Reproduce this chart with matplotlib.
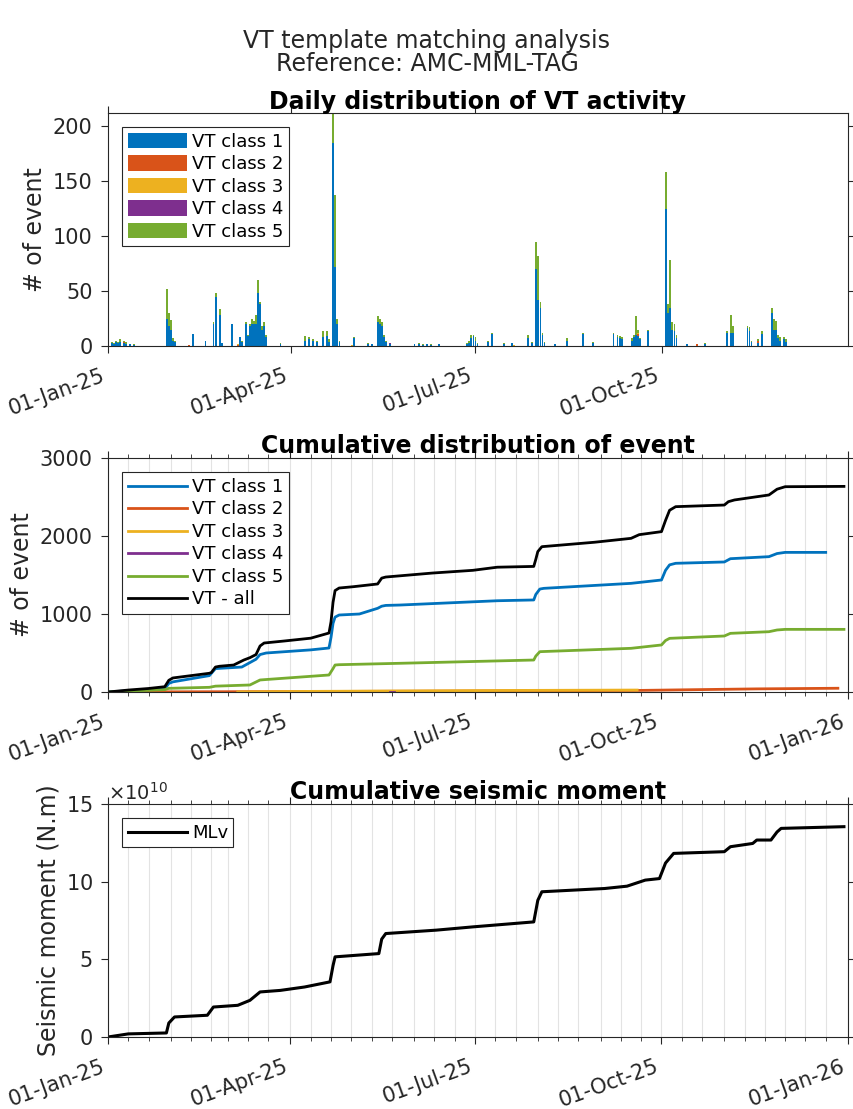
import numpy as np
import matplotlib
matplotlib.use("Agg")
import matplotlib.pyplot as plt
import matplotlib.dates as mdates
from matplotlib.ticker import ScalarFormatter

t0 = np.datetime64("2025-01-01")

# daily VT counts, day index counted from 01-Jan-25
daily_days = [0, 2, 3, 4, 5, 6, 8, 9, 11, 13,
              29, 30, 31, 32, 33, 42, 48, 52, 53, 55, 56, 61, 65, 66,
              68, 69, 70, 71, 72, 73, 74, 75, 76, 77, 78, 85,
              97, 99, 101, 103, 106, 108, 109, 111, 112, 113, 114, 121,
              128, 130, 133, 134, 135, 136, 137, 139,
              151, 153, 155, 157, 159, 163, 177, 178, 179, 180, 181, 182,
              187, 189, 195, 199, 207, 209, 211, 212, 213, 214, 215,
              220, 226, 234, 239, 249, 251, 252, 253, 258, 259, 260, 261, 262,
              266, 275, 276, 277, 278, 279, 280, 285, 294,
              305, 307, 308, 315, 316, 317, 320, 322,
              327, 328, 329, 330, 331, 333, 334]
daily_c1 = [2, 3, 2, 4, 3, 4, 3, 2, 2, 1,
            25, 18, 15, 5, 4, 11, 5, 20, 45, 28, 3, 20, 8, 4,
            20, 9, 18, 20, 20, 20, 48, 38, 15, 18, 8, 2,
            5, 6, 5, 4, 8, 9, 4, 185, 72, 20, 4, 7,
            2, 2, 22, 20, 18, 8, 4, 2,
            2, 2, 1, 2, 1, 2, 2, 3, 7, 9, 5, 2,
            4, 11, 2, 3, 7, 3, 70, 42, 35, 10, 3,
            2, 5, 11, 3, 11, 8, 7, 6, 5, 8, 10, 9, 6,
            14, 125, 30, 35, 15, 14, 7, 2, 2,
            12, 12, 12, 16, 14, 4, 3, 11,
            30, 15, 15, 7, 5, 6, 4]
daily_c5 = [1, 1, 1, 1, 1, 2, 1, 2, 0, 1,
            27, 12, 9, 2, 1, 0, 0, 2, 3, 6, 0, 0, 0, 1,
            2, 1, 2, 5, 3, 8, 12, 2, 3, 4, 2, 1,
            4, 2, 1, 1, 6, 5, 2, 28, 65, 5, 1, 1,
            1, 0, 5, 5, 4, 2, 1, 0,
            0, 1, 1, 0, 1, 0, 1, 2, 3, 1, 3, 1,
            1, 1, 1, 0, 3, 1, 25, 40, 5, 2, 1,
            0, 2, 1, 1, 1, 2, 2, 2, 2, 2, 17, 3, 1,
            1, 33, 8, 43, 7, 6, 3, 0, 1,
            2, 16, 6, 2, 3, 1, 1, 3,
            5, 10, 8, 3, 3, 2, 2]
c2_days = [8, 40, 64, 261, 290, 320]
c2_counts = [1, 1, 1, 2, 2, 2]
c3_days = [64, 120, 200, 261]
c3_counts = [1, 1, 1, 1]
c4_days = [139]
c4_counts = [1]

# cumulative curves (day, count)
all_days = [0, 10, 20, 28, 30, 32, 50, 51, 53, 55, 62, 67, 70, 73, 75, 77, 87, 100,
            109, 110, 111, 112, 114, 121, 133, 135, 137, 160, 180, 192, 210, 211, 212,
            214, 240, 258, 262, 273, 275, 277, 280, 304, 306, 309, 326, 330, 334, 363]
all_vals = [0, 25, 45, 68, 150, 180, 240, 250, 320, 330, 346, 410, 440, 480, 590, 628, 654,
            690, 756, 900, 1150, 1300, 1333, 1350, 1385, 1460, 1474, 1525, 1560, 1600,
            1610, 1700, 1800, 1863, 1920, 1970, 2017, 2056, 2200, 2330, 2376, 2397, 2440,
            2462, 2526, 2600, 2632, 2636]
c1_cum_days = [0, 10, 28, 30, 32, 50, 53, 66, 73, 75, 78, 100, 109, 110, 111, 112, 114,
               124, 133, 135, 137, 144, 192, 210, 211, 213, 215, 258, 273, 275, 277, 280,
               304, 307, 326, 330, 334, 354]
c1_cum_vals = [0, 15, 40, 110, 130, 210, 300, 320, 420, 480, 500, 540, 564, 700, 880,
               960, 987, 1000, 1073, 1100, 1110, 1115, 1170, 1180, 1250, 1320, 1329, 1393,
               1436, 1560, 1630, 1650, 1667, 1709, 1735, 1775, 1790, 1790]
c5_cum_days = [0, 28, 30, 50, 53, 70, 75, 78, 109, 111, 112, 114, 144, 210, 211, 213,
               258, 273, 275, 277, 304, 307, 326, 330, 334, 363]
c5_cum_vals = [0, 30, 47, 60, 75, 90, 154, 160, 218, 300, 346, 350, 368, 410, 460, 517,
               560, 603, 660, 688, 718, 752, 773, 795, 803, 803]
c2_cum_days = [8, 64, 150, 261, 290, 320, 360]
c2_cum_vals = [1, 4, 10, 20, 30, 40, 48]
c3_cum_days = [64, 100, 150, 200, 261]
c3_cum_vals = [1, 8, 14, 20, 25]
c4_cum_days = [139, 141]
c4_cum_vals = [1, 1]

# cumulative seismic moment (x 1e10 N.m)
mom_days = [0, 5, 10, 28.8, 30, 32.8, 49, 52, 64, 70, 75, 85, 97, 109.5, 111, 112,
            133.6, 135, 137, 162, 180, 210, 212, 214, 245, 256, 265, 272, 275, 279,
            304, 307, 318, 320, 327, 330, 332, 363]
mom_e10 = [0, 0.1, 0.2, 0.26, 0.9, 1.29, 1.4, 1.93, 2.04, 2.36, 2.9, 3.0, 3.22, 3.55,
           4.6, 5.16, 5.37, 6.3, 6.66, 6.88, 7.09, 7.41, 8.8, 9.35, 9.56, 9.71, 10.1,
           10.2, 11.2, 11.82, 11.93, 12.25, 12.46, 12.68, 12.68, 13.2, 13.43, 13.54]

colors = ["#0072BD", "#D95319", "#EDB120", "#7E2F8E", "#77AC30"]
labels = ["VT class 1", "VT class 2", "VT class 3", "VT class 4", "VT class 5"]
GRAY = "#262626"


def to_dates(days):
    return t0 + (np.array(days, dtype=float) * 86400).astype("timedelta64[s]")


def daily_series(days, counts):
    arr = np.zeros(365)
    arr[np.array(days)] = counts
    return arr


def style_axes(ax, grid=True):
    ax.xaxis.set_major_locator(mdates.MonthLocator(bymonth=[1, 4, 7, 10]))
    ax.xaxis.set_major_formatter(mdates.DateFormatter("%d-%b-%y"))
    ax.tick_params(axis="both", which="major", direction="out", length=5, width=0.8,
                   labelsize=15, colors=GRAY, top=True, right=True)
    ax.tick_params(axis="y", pad=6)
    ax.tick_params(axis="x", pad=9)
    for lab in ax.get_xticklabels():
        lab.set_rotation(20)
        lab.set_ha("right")
    for sp in ax.spines.values():
        sp.set_color(GRAY)
        sp.set_linewidth(0.8)
    if grid:
        ax.xaxis.set_minor_locator(mdates.DayLocator(bymonthday=[1, 11, 21]))
        ax.tick_params(axis="x", which="minor", direction="out", length=3, width=0.6,
                       colors=GRAY, top=True)
        ax.grid(True, which="both", axis="x", color="#e3e3e3", linewidth=0.8)
        ax.set_axisbelow(True)


fig = plt.figure(figsize=(8.54, 11.09), dpi=100)
fig.text(0.5, 0.963, "VT template matching analysis", ha="center", va="center",
         fontsize=17, color=GRAY)
fig.text(0.5, 0.942, "Reference: AMC-MML-TAG", ha="center", va="center",
         fontsize=17, color=GRAY)

L, W = 108 / 854, 740 / 854
ax1 = fig.add_axes([L, 1 - 346 / 1109, W, 233 / 1109])
ax2 = fig.add_axes([L, 1 - 692 / 1109, W, 234 / 1109])
ax3 = fig.add_axes([L, 1 - 1037 / 1109, W, 233 / 1109])

# --- daily stacked bars
days_all = to_dates(np.arange(365))
stack = [daily_series(daily_days, daily_c1), daily_series(c2_days, c2_counts),
         daily_series(c3_days, c3_counts), daily_series(c4_days, c4_counts),
         daily_series(daily_days, daily_c5)]
bottom = np.zeros(365)
for vals, col, lab in zip(stack, colors, labels):
    ax1.bar(days_all, vals, width=0.9, bottom=bottom, color=col, label=lab,
            linewidth=0, align="center")
    bottom += vals
ax1.set_ylim(0, 212)
ax1.set_yticks([0, 50, 100, 150, 200])
ax1.set_xlim(to_dates([0])[0], to_dates([364.5])[0])
style_axes(ax1, grid=False)
ax1.set_ylabel("# of event", fontsize=17, color=GRAY)
ax1.set_title("Daily distribution of VT activity", fontsize=17, fontweight="bold", pad=3)
leg_kw = dict(loc="upper left", fontsize=13, handlelength=3.3, handletextpad=0.25,
              labelspacing=0.25, borderpad=0.3, borderaxespad=0.8, fancybox=False,
              framealpha=1, edgecolor=GRAY)
lg = ax1.legend(handleheight=0.95, **leg_kw)
lg.get_frame().set_linewidth(0.8)

# --- cumulative counts
cum = [(c1_cum_days, c1_cum_vals), (c2_cum_days, c2_cum_vals),
       (c3_cum_days, c3_cum_vals), (c4_cum_days, c4_cum_vals),
       (c5_cum_days, c5_cum_vals)]
for (d, v), col, lab in zip(cum, colors, labels):
    ax2.plot(to_dates(d), v, color=col, lw=2, label=lab)
ax2.plot(to_dates(all_days), all_vals, color="black", lw=2, label="VT - all")
ax2.set_ylim(0, 3000)
ax2.set_yticks([0, 1000, 2000, 3000])
ax2.set_xlim(to_dates([0])[0], np.datetime64("2026-01-01"))
style_axes(ax2)
ax2.set_ylabel("# of event", fontsize=17, color=GRAY)
ax2.set_title("Cumulative distribution of event", fontsize=17, fontweight="bold", pad=3)
lg = ax2.legend(**leg_kw)
lg.get_frame().set_linewidth(0.8)

# --- cumulative seismic moment
ax3.plot(to_dates(mom_days), np.array(mom_e10) * 1e10, color="black", lw=2.2, label="MLv")
ax3.set_ylim(0, 15e10)
ax3.set_yticks([0, 5e10, 10e10, 15e10])
ax3.set_xlim(to_dates([0])[0], np.datetime64("2026-01-01"))
fmt = ScalarFormatter(useMathText=True)
fmt.set_powerlimits((10, 10))
ax3.yaxis.set_major_formatter(fmt)
ax3.yaxis.get_offset_text().set_fontsize(14)
ax3.yaxis.get_offset_text().set_color(GRAY)
style_axes(ax3)
ax3.set_ylabel("Seismic moment (N.m)", fontsize=17, color=GRAY)
ax3.set_title("Cumulative seismic moment", fontsize=17, fontweight="bold", pad=3)
lg = ax3.legend(**leg_kw)
lg.get_frame().set_linewidth(0.8)

fig.savefig("out.png", dpi=100)
